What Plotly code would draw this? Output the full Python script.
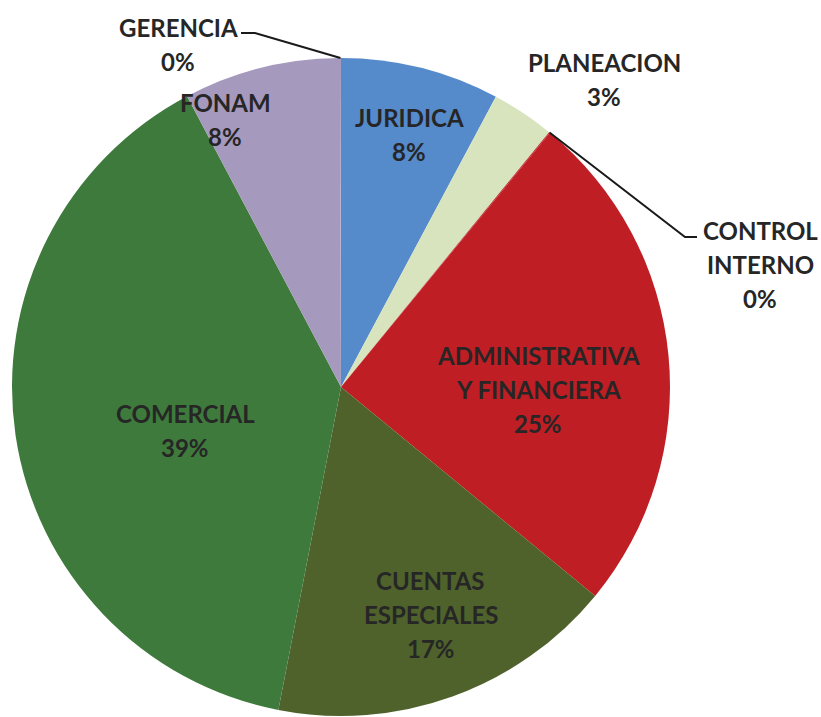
import math
import plotly.graph_objects as go

# ---- data ----
labels = ["JURIDICA", "PLANEACION", "CONTROL INTERNO", "ADMINISTRATIVA Y FINANCIERA",
          "CUENTAS ESPECIALES", "COMERCIAL", "FONAM", "GERENCIA"]
values = [7.8, 3.1, 0.05, 25.0, 17.1, 39.2, 7.7, 0.05]
colors = ["#558ACB", "#D7E4BD", "#BE1E24", "#BE1E24",
          "#4F622B", "#3E7A3C", "#A699BE", "#A699BE"]
label_lines = {
    "JURIDICA": ["JURIDICA"],
    "PLANEACION": ["PLANEACION"],
    "CONTROL INTERNO": ["CONTROL", "INTERNO"],
    "ADMINISTRATIVA Y FINANCIERA": ["ADMINISTRATIVA", "Y FINANCIERA"],
    "CUENTAS ESPECIALES": ["CUENTAS", "ESPECIALES"],
    "COMERCIAL": ["COMERCIAL"],
    "FONAM": ["FONAM"],
    "GERENCIA": ["GERENCIA"],
}

# ---- layout / placement (pixels) ----
W, H = 821, 717
CX, CY, R = 341, 387, 329
label_pos = {  # center of first text line
    "JURIDICA": (409, 117),
    "PLANEACION": (604, 62),
    "CONTROL INTERNO": (760, 230),
    "ADMINISTRATIVA Y FINANCIERA": (538, 355),
    "CUENTAS ESPECIALES": (431, 580),
    "COMERCIAL": (185, 413),
    "FONAM": (225, 102),
    "GERENCIA": (178, 27),
}
LINE_H = 34
leaders = {  # elbow point, end point
    "CONTROL INTERNO": [(685, 237), (697, 237)],
    "GERENCIA": [(255, 33), (241, 33)],
}

def px(x):
    return x / W

def py(y):
    return 1 - y / H

total = sum(values)
fig = go.Figure(go.Pie(
    labels=labels, values=values, sort=False, direction="clockwise", rotation=0,
    marker=dict(colors=colors, line=dict(width=0)),
    textinfo="none", hoverinfo="label+percent", showlegend=False,
    domain=dict(x=[px(CX - R), px(CX + R)], y=[max(0, py(CY + R)), py(CY - R)]),
))

annotations = []
font = dict(family="Lato, Carlito, sans-serif", size=24, color="#262626", weight="bold")
for lab, v in zip(labels, values):
    pct = f"{round(v / total * 100)}%"
    lines = label_lines[lab] + [pct]
    x0, y0 = label_pos[lab]
    for i, t in enumerate(lines):
        annotations.append(dict(x=px(x0), y=py(y0 + i * LINE_H), xref="paper", yref="paper",
                                text=t, showarrow=False, xanchor="center", yanchor="middle",
                                font=font))

shapes = []
cum = 0
for lab, v in zip(labels, values):
    mid = (cum + v / 2) / total * 2 * math.pi
    cum += v
    if lab in leaders:
        sx = CX + R * math.sin(mid)
        sy = CY - R * math.cos(mid)
        pts = [(sx, sy)] + leaders[lab]
        path = "M " + " L ".join(f"{px(a)},{py(b)}" for a, b in pts)
        shapes.append(dict(type="path", path=path, xref="paper", yref="paper",
                           line=dict(color="#1a1a1a", width=2)))

fig.update_layout(width=W, height=H, margin=dict(l=0, r=0, t=0, b=0),
                  paper_bgcolor="white", plot_bgcolor="white",
                  annotations=annotations, shapes=shapes)
fig.write_html("out.html", config={"displayModeBar": False},
               post_script="document.body.style.margin='0';document.body.style.overflow='hidden';")
